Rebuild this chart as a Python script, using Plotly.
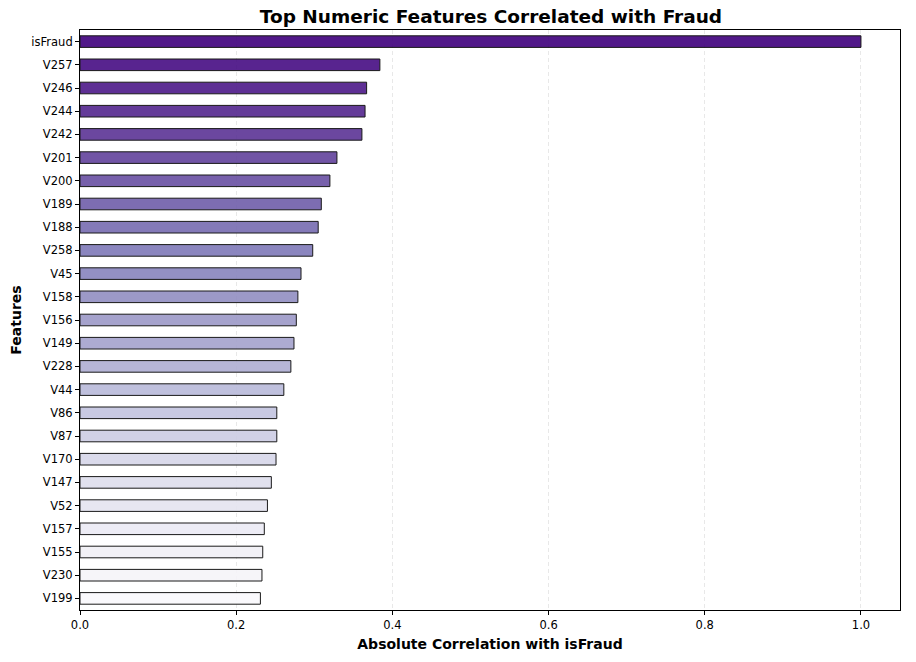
import plotly.graph_objects as go
from plotly.colors import sample_colorscale

features = ["isFraud", "V257", "V246", "V244", "V242", "V201", "V200", "V189", "V188", "V258",
            "V45", "V158", "V156", "V149", "V228", "V44", "V86", "V87", "V170", "V147",
            "V52", "V157", "V155", "V230", "V199"]
correlations = [1.0, 0.384, 0.367, 0.365, 0.361, 0.329, 0.320, 0.309, 0.305, 0.298,
                0.283, 0.279, 0.277, 0.274, 0.270, 0.261, 0.252, 0.252, 0.251, 0.245,
                0.240, 0.236, 0.234, 0.233, 0.231]
x_ticks = [0.0, 0.2, 0.4, 0.6, 0.8, 1.0]

n = len(features)
positions = [1.0 - (1.0 - 0.02) * i / (n - 1) for i in range(n)]
colors = sample_colorscale("Purples", positions)

font_family = "DejaVu Sans"

fig = go.Figure(go.Bar(
    x=correlations,
    y=features,
    orientation="h",
    width=0.5,
    marker=dict(color=colors, line=dict(color="black", width=1), opacity=0.9),
))

fig.update_layout(
    width=916, height=662,
    margin=dict(l=80, r=16, t=30, b=52),
    plot_bgcolor="white", paper_bgcolor="white",
    font=dict(family=font_family, size=11.5, color="black"),
    title=dict(text="<b>Top Numeric Features Correlated with Fraud</b>", x=0.536, xanchor="center",
               y=0.975, yanchor="middle", font=dict(size=18.5, family=font_family)),
    showlegend=False,
)
fig.update_xaxes(
    range=[0, 1.05], tickvals=x_ticks, ticktext=[f"{v:.1f}" for v in x_ticks],
    showgrid=True, gridcolor="rgba(0,0,0,0.09)", griddash="4px,3px", gridwidth=1,
    showline=True, linecolor="black", linewidth=1, mirror=True,
    ticks="outside", ticklen=4, tickcolor="black", zeroline=False,
    title=dict(text="<b>Absolute Correlation with isFraud</b>", font=dict(size=14, family=font_family), standoff=8),
)
fig.update_yaxes(
    categoryorder="array", categoryarray=features[::-1], range=[-0.5, n - 0.5],
    showgrid=False, showline=True, linecolor="black", linewidth=1, mirror=True,
    ticks="outside", ticklen=4, tickcolor="black",
    title=dict(text="<b>Features</b>", font=dict(size=14, family=font_family), standoff=6),
)

fig.write_html("out.html")
